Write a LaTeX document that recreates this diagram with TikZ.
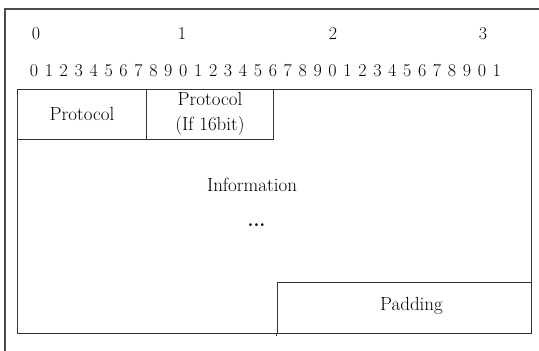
\documentclass[tikz,border=0pt]{standalone}
\begin{document}
\begin{tikzpicture}[x=1pt,y=-1pt,
  frame/.style={draw=black!70, line width=1.1pt},
  field/.style={draw=black!80, line width=1pt, inner sep=0pt, font=\fontsize{19}{25}\selectfont, align=center},
  lbl/.style={inner sep=0pt, font=\fontsize{19}{25}\selectfont},
  bit/.style={inner sep=0pt, font=\fontsize{18}{20}\selectfont}]
\useasboundingbox (0,0) rectangle (539,351);
\draw[frame] (539,9) -- (5,9) -- (5,351);
\foreach \i in {0,...,31} {
  \pgfmathtruncatemacro\d{mod(\i,10)}
  \node[bit] (b\i) at ({34+14.93*\i},70.5) {\d};
}
\node[bit] (t0) at (36,34) {0};
\node[bit] (t1) at (182,34) {1};
\node[bit] (t2) at (333,34) {2};
\node[bit] (t3) at (483,34) {3};
\node[field, minimum width=514pt, minimum height=244pt] (main) at (274.5,211) {};
\node[field, minimum width=129pt, minimum height=50pt] (p1) at (82,114) {Protocol};
\node[field, minimum width=127pt, minimum height=50pt] (p2) at (210,114) {Protocol\\(If 16bit)};
\node[field, minimum width=254.5pt, minimum height=51pt] (pad) at (404.25,307.5) {};
\draw[draw=black!80, line width=1pt] (pad.south west) -- ++(0,2);
\node[lbl] (padl) at (411.5,306) {Padding};
\node[lbl] (info) at (252,185) {Information};
\node[lbl] (dots) at (256.5,225.5) {\textbf{...}};
\end{tikzpicture}
\end{document}
